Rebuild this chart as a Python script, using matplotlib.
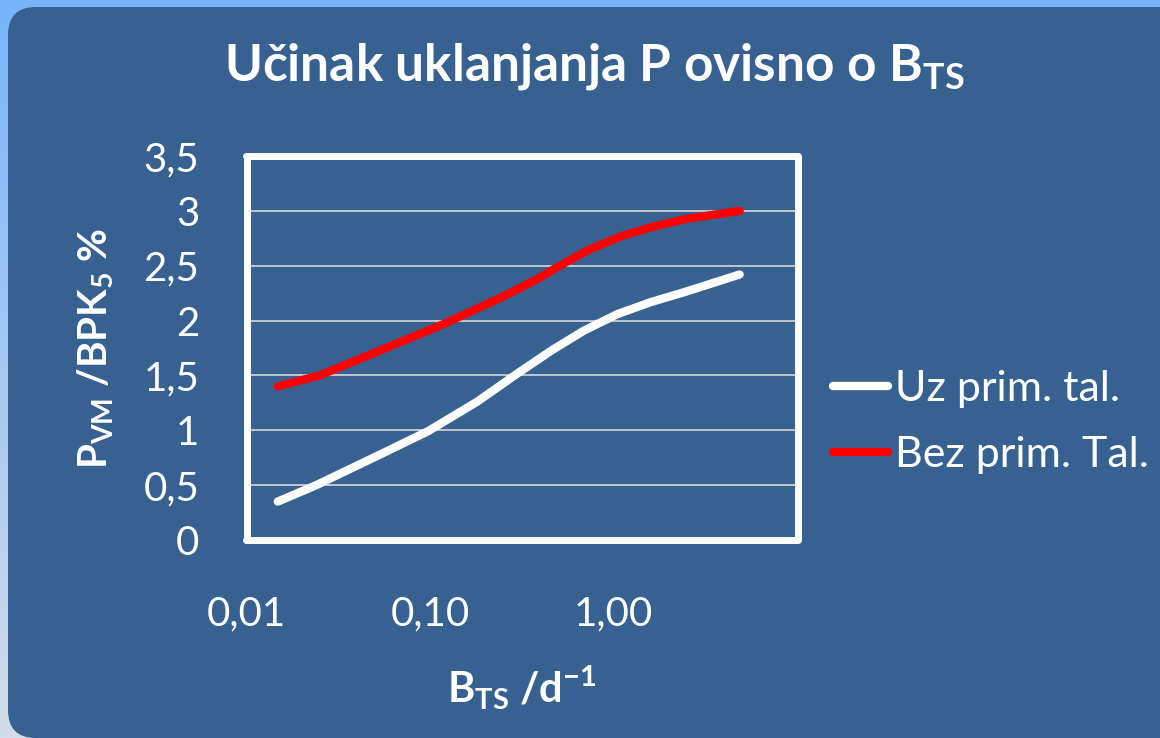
import numpy as np
import matplotlib
matplotlib.use('Agg')
import matplotlib.pyplot as plt
from matplotlib.patches import FancyBboxPatch
from matplotlib.colors import LinearSegmentedColormap

# podaci ocitani s grafa
bts_uz = [0.0148, 0.024, 0.052, 0.097, 0.18, 0.30, 0.46, 0.69, 1.05, 1.6, 2.43, 4.84]
p_uz = [0.35, 0.50, 0.77, 0.99, 1.26, 1.52, 1.73, 1.91, 2.06, 2.17, 2.26, 2.42]

bts_bez = [0.0148, 0.025, 0.052, 0.119, 0.243, 0.385, 0.495, 0.72, 1.10, 1.67, 2.53, 4.84]
p_bez = [1.40, 1.50, 1.72, 1.97, 2.21, 2.38, 2.49, 2.64, 2.77, 2.86, 2.93, 3.00]

x_ticks = [0.01, 0.1, 1]
x_tick_labels = ['0,01', '0,10', '1,00']
y_ticks = [0, 0.5, 1, 1.5, 2, 2.5, 3, 3.5]
y_tick_labels = ['0', '0,5', '1', '1,5', '2', '2,5', '3', '3,5']

panel = '#366191'

plt.rcParams['font.family'] = ['Lato', 'DejaVu Sans']
plt.rcParams['mathtext.fontset'] = 'custom'
plt.rcParams['mathtext.rm'] = 'Lato'
plt.rcParams['mathtext.bf'] = 'Lato:bold'

fig = plt.figure(figsize=(11.6, 7.38), dpi=100)

# pozadina (gradijent + zaobljeni panel)
bg = fig.add_axes([0, 0, 1, 1], zorder=-1)
bg.set_xlim(0, 1160)
bg.set_ylim(738, 0)
bg.axis('off')
cmap = LinearSegmentedColormap.from_list('bg', ['#78b4fb', '#d2dcea'])
bg.imshow(np.linspace(0, 1, 256).reshape(-1, 1), cmap=cmap, aspect='auto',
          extent=[0, 1160, 738, 0])
bg.add_patch(FancyBboxPatch((8, 7), 1190, 731, boxstyle='round,pad=0,rounding_size=28',
                            facecolor=panel, edgecolor='none'))

ax = fig.add_axes([0.2125, 0.2683, 0.475, 0.5203])
ax.set_facecolor(panel)
ax.plot(bts_uz, p_uz, color='white', lw=6, solid_capstyle='round', solid_joinstyle='round',
        label='Uz prim. tal.', zorder=3)
ax.plot(bts_bez, p_bez, color='#ff0000', lw=6, solid_capstyle='round', solid_joinstyle='round',
        label='Bez prim. Tal.', zorder=3)

ax.set_xscale('log')
ax.set_xlim(0.01, 10)
ax.set_ylim(0, 3.5)
ax.set_xticks(x_ticks)
ax.set_xticklabels(x_tick_labels)
ax.xaxis.set_minor_locator(matplotlib.ticker.NullLocator())
ax.set_yticks(y_ticks)
ax.set_yticklabels(y_tick_labels)
ax.tick_params(axis='both', length=0, labelsize=29, colors='white')
ax.tick_params(axis='y', pad=34)
ax.tick_params(axis='x', pad=40)
ax.grid(axis='y', color='#d9d9d9', lw=1.2)
ax.set_axisbelow(True)
for s in ax.spines.values():
    s.set_color('white')
    s.set_linewidth(5)
    s.set_capstyle('round')

ax.set_xlabel(r'B$_{\mathbf{TS}}$ /d$^{\mathbf{-1}}$', fontsize=30, fontweight='bold',
              color='white', labelpad=22)
ax.set_ylabel(r'P$_{\mathbf{VM}}$ /BPK$_{\mathbf{5}}$ %', fontsize=29, fontweight='bold',
              color='white', labelpad=20)

fig.text(594 / 1160, (738 - 80) / 738, r'Učinak uklanjanja P ovisno o B$_{\mathbf{TS}}$',
         ha='center', va='baseline', fontsize=37, fontweight='bold', color='white')

fig.legend(loc='center left', bbox_to_anchor=(833 / 1160, (738 - 422) / 738),
           frameon=False, fontsize=31, labelcolor='white', handlelength=1.28,
           handletextpad=0.16, labelspacing=0.67, borderpad=0, borderaxespad=0)

fig.savefig('out.png', dpi=100, facecolor='#78b4fb')
